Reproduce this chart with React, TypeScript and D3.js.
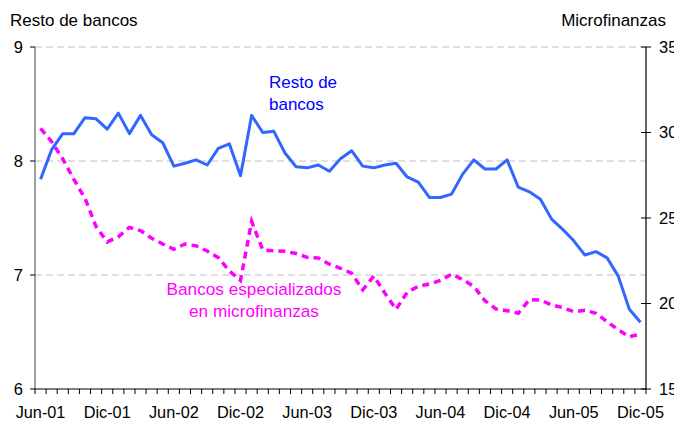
import * as d3 from "d3";

const months = [
  "Jun-01", "Jul-01", "Ago-01", "Sep-01", "Oct-01", "Nov-01", "Dic-01",
  "Ene-02", "Feb-02", "Mar-02", "Abr-02", "May-02", "Jun-02", "Jul-02", "Ago-02", "Sep-02", "Oct-02", "Nov-02", "Dic-02",
  "Ene-03", "Feb-03", "Mar-03", "Abr-03", "May-03", "Jun-03", "Jul-03", "Ago-03", "Sep-03", "Oct-03", "Nov-03", "Dic-03",
  "Ene-04", "Feb-04", "Mar-04", "Abr-04", "May-04", "Jun-04", "Jul-04", "Ago-04", "Sep-04", "Oct-04", "Nov-04", "Dic-04",
  "Ene-05", "Feb-05", "Mar-05", "Abr-05", "May-05", "Jun-05", "Jul-05", "Ago-05", "Sep-05", "Oct-05", "Nov-05", "Dic-05",
];

const tickLabels = ["Jun-01", "Dic-01", "Jun-02", "Dic-02", "Jun-03", "Dic-03", "Jun-04", "Dic-04", "Jun-05", "Dic-05"];

// left axis
const restoBancos = [
  7.84, 8.10, 8.24, 8.24, 8.38, 8.37, 8.28, 8.42, 8.24, 8.40,
  8.23, 8.16, 7.955, 7.98, 8.01, 7.965, 8.11, 8.15, 7.87, 8.40,
  8.25, 8.26, 8.07, 7.95, 7.94, 7.965, 7.91, 8.02, 8.09, 7.955,
  7.94, 7.965, 7.98, 7.86, 7.815, 7.68, 7.68, 7.71, 7.885, 8.01,
  7.93, 7.93, 8.01, 7.77, 7.73, 7.665, 7.49, 7.40, 7.30, 7.175,
  7.205, 7.15, 6.99, 6.70, 6.585,
];

// right axis
const microfinanzas = [
  30.24, 29.46, 28.45, 27.26, 26.15, 24.5, 23.6, 23.9, 24.45, 24.26,
  23.82, 23.48, 23.17, 23.48, 23.37, 23.07, 22.68, 21.9, 21.35, 24.8,
  23.13, 23.08, 23.05, 22.92, 22.7, 22.66, 22.3, 22.06, 21.77, 20.8,
  21.6, 20.6, 19.66, 20.65, 21.0, 21.14, 21.35, 21.72, 21.4, 21.0,
  20.16, 19.68, 19.58, 19.43, 20.22, 20.2, 19.92, 19.76, 19.52, 19.6,
  19.43, 18.94, 18.46, 18.06, 18.2,
];

const leftTicks = [6, 7, 8, 9];
const rightTicks = [15, 20, 25, 30, 35];
const gridTicks = [7, 8, 9];

const W = 674;
const H = 421;
const font = "'Liberation Sans', Arial, sans-serif";

export default function App() {
  const x = d3.scaleBand<string>().domain(months).range([35, 646]).padding(0);
  const yL = d3.scaleLinear().domain([6, 9]).range([389, 47]);
  const yR = d3.scaleLinear().domain([15, 35]).range([389, 47]);
  const cx = (m: string) => (x(m) ?? 0) + x.bandwidth() / 2;

  const blueLine = d3.line<number>()
    .x((_, i) => cx(months[i]))
    .y((d) => yL(d));
  const pinkLine = d3.line<number>()
    .x((_, i) => cx(months[i]))
    .y((d) => yR(d));

  const boundaries = months.map((m) => x(m) ?? 0).concat([646]);

  return (
    <svg width={W} height={H} style={{ position: "absolute", left: 0, top: 0 }} fontFamily={font}>
      <rect width={W} height={H} fill="#fff" />
      {gridTicks.map((t) => (
        <line key={t} x1={35} x2={646} y1={yL(t)} y2={yL(t)} stroke="#c0c0c0" strokeWidth={1} strokeDasharray="7 4" />
      ))}

      {/* left axis */}
      <line x1={35} x2={35} y1={47} y2={389} stroke="#808080" strokeWidth={1.5} />
      {leftTicks.map((t) => (
        <g key={t}>
          <line x1={30} x2={35} y1={yL(t)} y2={yL(t)} stroke="#000" />
          <text x={23} y={yL(t)} dy="0.35em" textAnchor="end" fontSize={16.5}>{t}</text>
        </g>
      ))}

      {/* right axis */}
      <line x1={646} x2={646} y1={47} y2={389} stroke="#000" strokeWidth={1.2} />
      {rightTicks.map((t) => (
        <g key={t}>
          <line x1={641} x2={651} y1={yR(t)} y2={yR(t)} stroke="#000" />
          <text x={659} y={yR(t)} dy="0.35em" textAnchor="start" fontSize={16.5}>{t}</text>
        </g>
      ))}

      {/* bottom axis */}
      <line x1={35} x2={646} y1={389} y2={389} stroke="#000" strokeWidth={1.2} />
      {boundaries.map((b, i) => (
        <line key={i} x1={b} x2={b} y1={389} y2={394} stroke="#000" />
      ))}
      {tickLabels.map((m) => (
        <text key={m} x={cx(m)} y={418} textAnchor="middle" fontSize={16.3}>{m}</text>
      ))}

      {/* series */}
      <path d={pinkLine(microfinanzas) ?? ""} fill="none" stroke="#ff00ff" strokeWidth={3.5} strokeDasharray="7 5" />
      <path d={blueLine(restoBancos) ?? ""} fill="none" stroke="#3366ff" strokeWidth={3} strokeLinejoin="round" />

      {/* titles */}
      <text x={10} y={26} fontSize={17}>Resto de bancos</text>
      <text x={666} y={26} fontSize={17} textAnchor="end">Microfinanzas</text>

      {/* annotations */}
      <text x={269} y={88} fontSize={17} fill="#0000ff">Resto de</text>
      <text x={269} y={110} fontSize={17} fill="#0000ff">bancos</text>
      <text x={254} y={295} fontSize={17.2} fill="#ff00ff" textAnchor="middle">Bancos especializados</text>
      <text x={254} y={317} fontSize={17.2} fill="#ff00ff" textAnchor="middle">en microfinanzas</text>
    </svg>
  );
}
